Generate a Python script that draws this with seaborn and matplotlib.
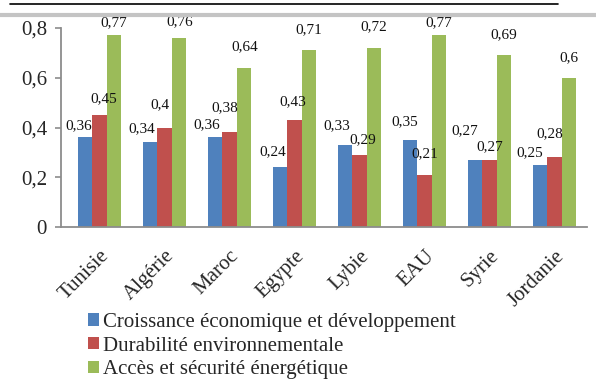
import matplotlib
matplotlib.use("Agg")
import matplotlib.pyplot as plt
from matplotlib.lines import Line2D
from matplotlib.patches import Patch
import numpy as np
import pandas as pd
import seaborn as sns

# Scores par pays et par dimension
pays = ["Tunisie", "Algérie", "Maroc", "Egypte", "Lybie", "EAU", "Syrie", "Jordanie"]
croissance = [0.36, 0.34, 0.36, 0.24, 0.33, 0.35, 0.27, 0.25]
durabilite = [0.45, 0.40, 0.38, 0.43, 0.29, 0.21, 0.27, 0.28]
acces = [0.77, 0.76, 0.64, 0.71, 0.72, 0.77, 0.69, 0.60]
series = ["Croissance économique et développement",
          "Durabilité environnementale",
          "Accès et sécurité énergétique"]
couleurs = ["#4F81BD", "#C0504D", "#9BBB59"]
yticks = [0, 0.2, 0.4, 0.6, 0.8]

# Décalage des étiquettes de valeur (pixels) pour éviter les chevauchements
decal_x = [[-6, -8, -8, -7.5, -8, -5.5, -10, -10],
           [4, -5, -4.5, -2, 3, 0, 0, -5],
           [0, 1, 1, 0, 0, 0, 0, 0]]
decal_y = [[12, 14, 13, 16, 19, 18, 29, 12],
           [16, 23, 25, 18, 15, 21, 13, 24],
           [13, 16, 21, 21, 21, 13, 21, 20]]

df = pd.DataFrame({
    "pays": pays * 3,
    "serie": [series[0]] * 8 + [series[1]] * 8 + [series[2]] * 8,
    "score": croissance + durabilite + acces,
})

sns.set_theme(style="white")
plt.rcParams["font.family"] = ["Liberation Serif", "DejaVu Serif"]

fig = plt.figure(figsize=(5.96, 3.80), dpi=100)
ax = fig.add_axes([61 / 596, 1 - 227 / 380, (587 - 61) / 596, (227 - 28) / 380])

sns.barplot(data=df, x="pays", y="score", hue="serie", hue_order=series,
            palette=couleurs, width=0.67, saturation=1, ax=ax,
            edgecolor="none", linewidth=0, legend=False, errorbar=None)

# Étiquettes de valeurs au-dessus des barres
for k, cont in enumerate(ax.containers):
    for i, (rect, v) in enumerate(zip(cont.patches, cont.datavalues)):
        x = rect.get_x() + rect.get_width() / 2
        ax.annotate(f"{v:g}".replace(".", ","), xy=(x, v),
                    xytext=(decal_x[k][i], decal_y[k][i]), textcoords="offset pixels",
                    ha="center", va="center", fontsize=11, color="#111111",
                    annotation_clip=False)

ax.set_ylim(0, 0.8)
ax.set_xlim(-0.5 - 6 / 65, 7.5)
ax.set_yticks(yticks)
ax.set_yticklabels([f"{t:g}".replace(".", ",") for t in yticks], fontsize=15)
ax.set_xlabel("")
ax.set_ylabel("")

ax.set_xticks(range(len(pays)))
ax.set_xticklabels(pays, rotation=45, ha="right", rotation_mode="anchor", fontsize=15)
ax.set_xticks(np.arange(-0.5, len(pays), 1), minor=True)
ax.tick_params(axis="x", which="major", length=0, pad=14)
ax.tick_params(axis="x", which="minor", length=5, width=1.2, color="#8c8c8c", direction="out")
ax.tick_params(axis="y", length=4, width=1.2, color="#8c8c8c", direction="out", pad=6)
ax.tick_params(axis="y", left=True)

for side in ["top", "right"]:
    ax.spines[side].set_visible(False)
for side in ["left", "bottom"]:
    ax.spines[side].set_color("#8c8c8c")
    ax.spines[side].set_linewidth(1.3)

# Légende sous le graphique
handles = [Patch(facecolor=c, edgecolor="none") for c in couleurs]
fig.legend(handles, series, loc="upper left", bbox_to_anchor=(88 / 596, 1 - 313 / 380),
           frameon=False, fontsize=15, handlelength=0.55, handleheight=0.55,
           handletextpad=0.15, labelspacing=0.22, borderaxespad=0, borderpad=0)

# Filets de l'en-tête
fig.add_artist(Line2D([10 / 596, 558 / 596], [1 - 4 / 380] * 2, color="black", lw=1.2))
fig.add_artist(Line2D([0, 1], [1 - 15 / 380] * 2, color="#c4c4c4", lw=3))

fig.savefig("out.png", dpi=100)
